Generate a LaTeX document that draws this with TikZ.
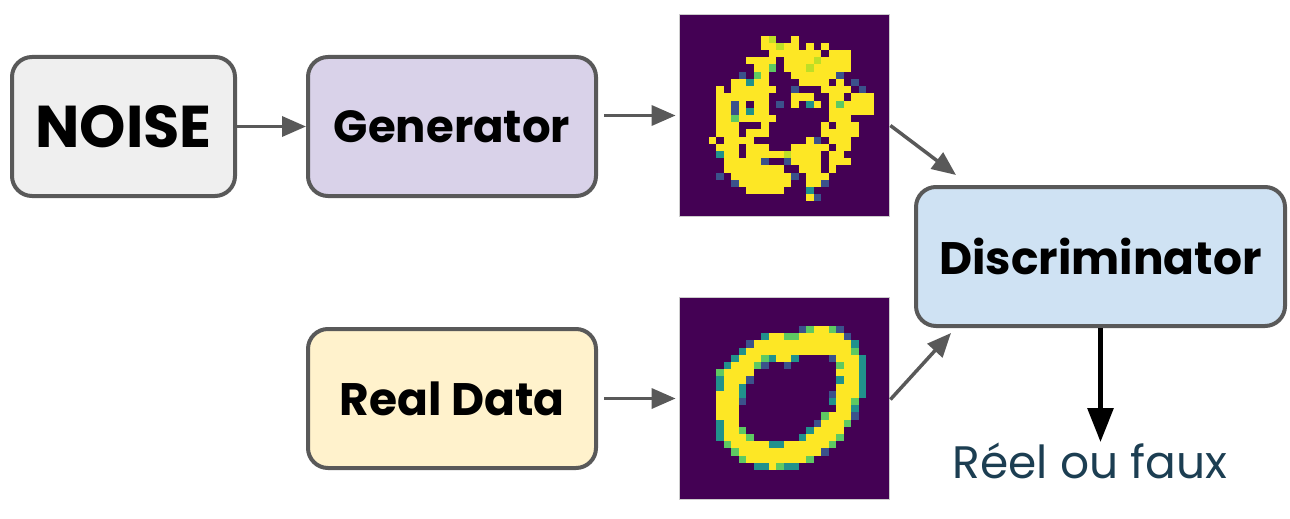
\documentclass[tikz,border=0pt]{standalone}
\usepackage{fontspec}
\setmainfont{Poppins}
\usepackage{tikz}
\usetikzlibrary{arrows.meta}
\tikzset{>={Triangle[length=24pt,width=20pt]}}

\definecolor{boxline}{RGB}{89,89,89}
\definecolor{noisefill}{RGB}{239,239,239}
\definecolor{genfill}{RGB}{217,210,233}
\definecolor{realfill}{RGB}{255,242,204}
\definecolor{discfill}{RGB}{207,226,243}
\definecolor{outtext}{RGB}{28,62,82}
\definecolor{pixd}{RGB}{68,1,84}
\definecolor{pixb}{RGB}{59,82,139}
\definecolor{pixt}{RGB}{33,145,140}
\definecolor{pixg}{RGB}{94,201,98}
\definecolor{pixl}{RGB}{190,223,38}
\definecolor{pixy}{RGB}{253,231,37}

\newcommand\pixrow[1]{\def\pixcol{0}\pixnext#1\relax}
\newcommand\pixnext[1]{\ifx#1\relax\else
  \if#1-\else\fill[pix#1] ({\pixcol*7.5},{\pixr*7.2}) rectangle ++(7.5,7.2);\fi
  \pgfmathtruncatemacro\pixcol{\pixcol+1}%
  \expandafter\pixnext\fi}

\tikzset{
  box/.style={draw=boxline, line width=4pt, rounded corners=20pt, minimum height=139pt, font=\bfseries, text=black},
  pixbox/.style={fill=pixd, draw=black!20, line width=0.8pt, minimum width=210pt, minimum height=202pt, inner sep=0pt},
  flow/.style={->, draw=boxline, line width=3.5pt}
}

\begin{document}
\begin{tikzpicture}[x=1pt, y=-1pt]
    \useasboundingbox (0,0) rectangle (1290,519);

    \node[box, fill=noisefill, minimum width=223pt, font=\bfseries\fontsize{59}{62}\selectfont] (noise) at (123.5,126.5) {NOISE};
    \node[box, fill=genfill, minimum width=288pt, font=\bfseries\fontsize{45}{50}\selectfont] (gen) at (452,126.5) {Generator};
    \node[box, fill=realfill, minimum width=288pt, font=\bfseries\fontsize{45.5}{50}\selectfont] (real) at (452,398.5) {Real Data};
    \node[box, fill=discfill, minimum width=369pt, font=\bfseries\fontsize{45.5}{50}\selectfont] (disc) at (1100.5,256.5) {Discriminator};
    \node[pixbox] (fake) at (784,115.5) {};
    \node[pixbox] (realimg) at (784,398.5) {};
    \node[anchor=base, inner sep=0pt, text=outtext, font=\fontsize{45.5}{50}\selectfont] (verdict) at (1090,478) {Réel ou faux};

    \begin{scope}[shift={(fake.north west)}]
        \foreach \pixline [count=\pixr from 0] in {
            ------- ------- ------- -------, ------- ------- ------- -------,
            ------- ------- ------- -------, ------- ----yl- -y----- -------,
            ------- ----yyl yy-y-y- -------, ------- -----yy yyyyy-y yy-----,
            ------- --yyyy- yyyylyy yy-----, ------- ---yyg- yyylyyy yy-----,
            ------- -b-gy-- -yyyyyy b------, ------- yytyy-- --yyyy- y-b----,
            -----y- yyyyyy- -b---yy yy-b---, -----yy yyyyy-- -yyy--y y-yyy--,
            -----yy by-yy-b -y-ty-y gyyyy--, -----yy bytyy-- ------y yyyyy--,
            -----yy gyyyyy- ------y yy-----, -----yy y---y-- -----y- yyy----,
            -----yy y-yyy-- -----yy yyy----, ----y-y yyy---- ---yb-y yy-----,
            -----yy y-yyy-- -yyyyy- yy-----, -----ty y-yyyyy lyyyy-y y------,
            ------y yyyyb-- byyyy-y yy-----, ------y yyyyyyy --yyy-y -------,
            -----b- yyyyyyy yb-yyy- -------, ------- byyyyyy y--yyb- -------,
            ------- --yyyyy ---t--- -------, ------- ------- ---yb-- -------}
            {\expandafter\pixrow\expandafter{\pixline}}
    \end{scope}
    \begin{scope}[shift={(realimg.north west)}]
        \foreach \pixline [count=\pixr from 4] in {
            ------- ------- --bgyyg b------, ------- ----tyy ggyyyyy yb-----,
            ------- --byyyy yyyyyyy yyt----, ------- -tyyyyy yyyyyyy yyg----,
            ------- tyyygty yt----b yyyt---, ------t yyygb-- b------ gyyt---,
            -----gy yyy---- ------- yyyt---, -----ty yyb---- ------- tyyt---,
            -----ty yt----- ------- yyyt---, -----yy yt----- ------b yyyt---,
            -----yy yb----- ------t yyg----, -----yy y------ ------- yyt----,
            -----yy y------ -----gy yyb----, -----ty y------ ----byy yg-----,
            -----ty yg----- ---tyyy y------, -----ty yyg---- --tyyyy g------,
            ------g yyyyytt yyyyyyg -------, ------- gyyyyyy yyyyyb- -------,
            ------- -gyyyyy yyyg--- -------, ------- ---ttyg tt----- -------}
            {\expandafter\pixrow\expandafter{\pixline}}
    \end{scope}

    \draw[flow] (noise) -- (gen);
    \draw[flow, shorten <=6pt, shorten >=3pt] (gen.east |- fake.west) -- (fake.west);
    \draw[flow, shorten <=6pt, shorten >=3pt] (real) -- (realimg);
    \draw[flow] ([shift={(1pt,-10pt)}]fake.east) -- ([shift={(42pt,10pt)}]disc.north west);
    \draw[flow] ([shift={(1pt,-1pt)}]realimg.east) -- ([shift={(37pt,-5pt)}]disc.south west);
    \draw[-{Triangle[length=34pt,width=25pt]}, line width=5.5pt] (disc.south) -- (disc.south |- verdict.north);
\end{tikzpicture}
\end{document}
